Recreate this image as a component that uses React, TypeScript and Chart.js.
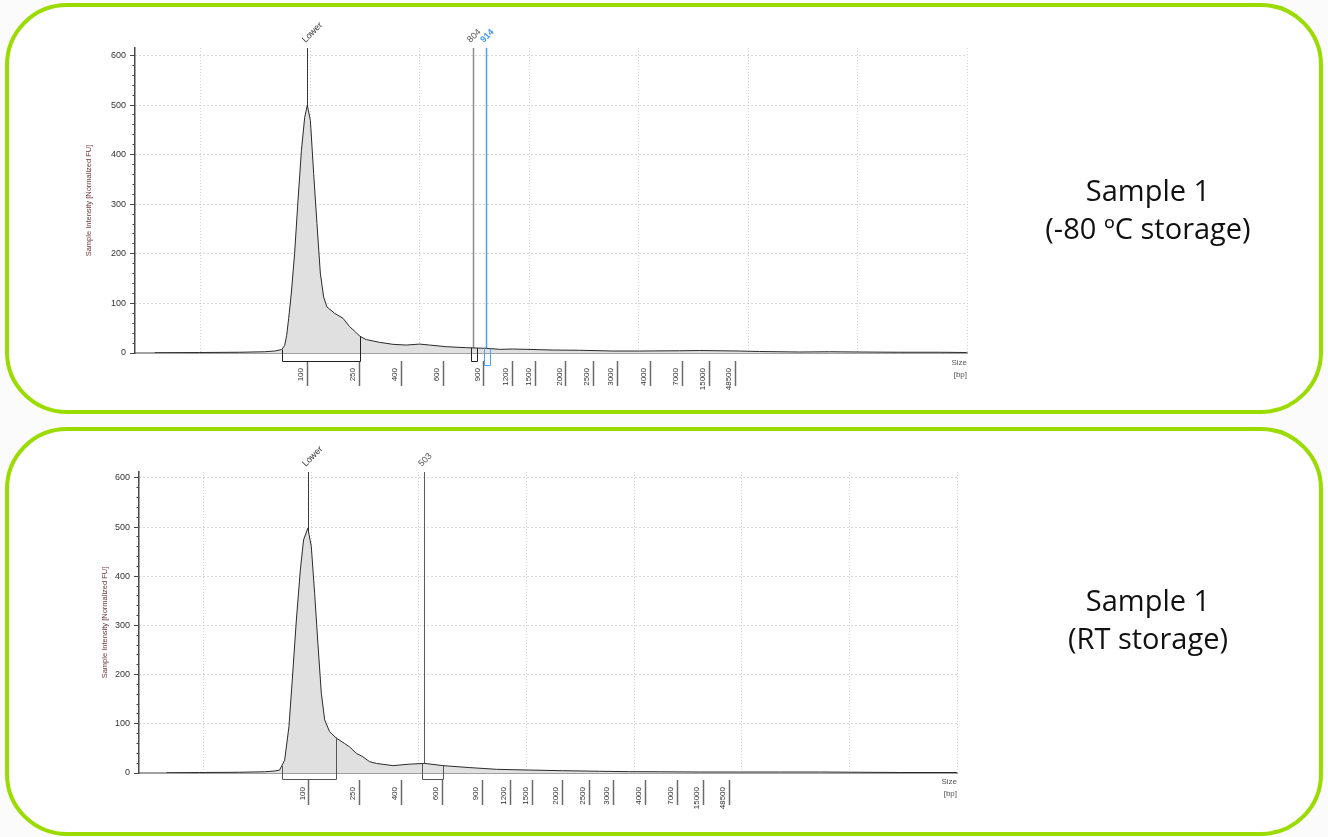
import React, { useEffect, useRef } from 'react';
import { Chart, registerables } from 'chart.js';

Chart.register(...registerables);

// ---------- DATA ----------
// x positions are in migration units of the electropherogram (vertical grid lines at 1..8)
const ladderSizes = ['100', '250', '400', '600', '900', '1200', '1500', '2000', '2500', '3000', '4000', '7000', '15000', '48500'];
const ladderPositions = [1.978, 2.448, 2.835, 3.218, 3.587, 3.851, 4.058, 4.336, 4.588, 4.808, 5.105, 5.402, 5.647, 5.888];
const gridPositions = [1, 2, 3, 4, 5, 6, 7, 8];
const yTickValues = [0, 100, 200, 300, 400, 500, 600];
const yMinorValues = [0, 20, 40, 60, 80, 100, 120, 140, 160, 180, 200, 220, 240, 260, 280, 300, 320, 340, 360, 380, 400, 420, 440, 460, 480, 500, 520, 540, 560, 580, 600];

// Sample 1, -80 °C storage
const topX = [0.58, 0.991, 1.356, 1.584, 1.676, 1.74, 1.767, 1.785, 1.804, 1.828, 1.858, 1.889, 1.92, 1.95, 1.974, 2.002, 2.032, 2.062, 2.093, 2.123, 2.153, 2.224, 2.3, 2.361, 2.416, 2.452, 2.513, 2.635, 2.756, 2.879, 3.0, 3.091, 3.244, 3.426, 3.609, 3.731, 3.849, 3.974, 4.217, 4.461, 4.763, 5.009, 5.374, 5.557, 5.922, 6.105, 6.47, 6.744, 7.018, 7.384, 7.749, 7.995];
const topY = [0.5, 1, 1.5, 2.5, 4, 7, 15, 35, 70, 121, 201, 308, 408, 475, 500, 469, 362, 261, 161, 113, 93, 80, 70, 53, 42, 34, 27, 21.5, 17.5, 16, 18, 16, 12.7, 10.7, 9.4, 7.4, 8, 7.4, 6, 5.5, 4, 4, 4.5, 5, 4, 3, 2, 2.5, 2, 1.5, 1.5, 1];
const topMarkerPositions = [1.975, 3.484, 3.603];
const topMarkerLabels = ['Lower', '804', '914'];
const topRegionStarts = [1.74, 3.466, 3.584];
const topRegionEnds = [2.452, 3.521, 3.639];

// Sample 1, RT storage
const bottomX = [0.656, 0.963, 1.335, 1.567, 1.66, 1.706, 1.753, 1.793, 1.824, 1.862, 1.899, 1.929, 1.969, 2.001, 2.032, 2.062, 2.094, 2.125, 2.171, 2.233, 2.31, 2.357, 2.419, 2.48, 2.543, 2.605, 2.759, 2.914, 3.054, 3.224, 3.472, 3.72, 4.03, 4.336, 4.68, 4.959, 5.238, 5.61, 5.981, 6.353, 6.725, 7.097, 7.468, 7.998];
const bottomY = [0.5, 1, 1.5, 2.5, 4, 6, 26, 94, 189, 311, 413, 474, 498, 460, 365, 264, 162, 108, 84, 71, 60, 53, 40, 33, 23, 19.5, 15, 18, 19.5, 15, 11, 7.5, 6, 4.7, 3.5, 2.7, 2.5, 2, 2, 2, 2, 1.5, 1, 1];
const bottomMarkerPositions = [1.968, 3.045];
const bottomMarkerLabels = ['Lower', '503'];
const bottomRegionStarts = [1.725, 3.026];
const bottomRegionEnds = [2.227, 3.221];

const sampleName = 'Sample 1';
const topCondition = '(-80 ºC storage)';
const bottomCondition = '(RT storage)';
const yTitle = 'Sample Intensity [Normalized FU]';
const xTitle = ['Size', '[bp]'];

// ---------- STYLES ----------
const GREEN = '#9bdc00';
const SMALL_FONT = '"Liberation Sans", Arial, sans-serif';

type MarkerStyle = { color: string; width: number; labelColor: string; bold?: boolean };
type RegionStyle = { color: string; depth: number };

const topMarkerStyles: MarkerStyle[] = [
  { color: '#3a3a3a', width: 1, labelColor: '#333' },
  { color: '#8c8c8c', width: 1.5, labelColor: '#555' },
  { color: '#4aa0ff', width: 1.5, labelColor: '#3d98f5', bold: true },
];
const topRegionStyles: RegionStyle[] = [
  { color: '#222', depth: 8 },
  { color: '#222', depth: 8 },
  { color: '#4aa0ff', depth: 12 },
];
const bottomMarkerStyles: MarkerStyle[] = [
  { color: '#3a3a3a', width: 1, labelColor: '#333' },
  { color: '#5a5a5a', width: 1, labelColor: '#555' },
];
const bottomRegionStyles: RegionStyle[] = [
  { color: '#555', depth: 6 },
  { color: '#555', depth: 6 },
];

interface PanelProps {
  xs: number[];
  ys: number[];
  markerPos: number[];
  markerLabels: string[];
  markerStyles: MarkerStyle[];
  regionStarts: number[];
  regionEnds: number[];
  regionStyles: RegionStyle[];
  left: number;
  top: number;
  width: number;
  height: number;
  yAxisWidth: number;
  padTop: number;
  padRight: number;
  padBottom: number;
  gapHeight: number;
  ladderHeight: number;
  yMax: number;
  titlePad: number;
}

function Panel(p: PanelProps) {
  const ref = useRef<HTMLCanvasElement>(null);

  useEffect(() => {
    const canvas = ref.current;
    if (!canvas) return;

    const interp = (u: number) => {
      const xs = p.xs, ys = p.ys;
      if (u <= xs[0]) return ys[0];
      for (let i = 1; i < xs.length; i++) {
        if (u <= xs[i]) {
          const t = (u - xs[i - 1]) / (xs[i] - xs[i - 1]);
          return ys[i - 1] + t * (ys[i] - ys[i - 1]);
        }
      }
      return ys[ys.length - 1];
    };

    const annot = {
      id: 'annot',
      beforeDatasetsDraw(chart: any) {
        const { ctx, chartArea, scales } = chart;
        const sx = scales.x, sy = scales.y;
        const base = sy.getPixelForValue(0);
        p.markerPos.forEach((pos, i) => {
          const st = p.markerStyles[i];
          const px = Math.round(sx.getPixelForValue(pos)) + 0.5;
          ctx.save();
          ctx.strokeStyle = st.color;
          ctx.lineWidth = st.width;
          ctx.beginPath();
          ctx.moveTo(px, chartArea.top);
          ctx.lineTo(px, base);
          ctx.stroke();
          ctx.restore();
        });
      },
      afterDatasetsDraw(chart: any) {
        const { ctx, scales } = chart;
        const sx = scales.x, sy = scales.y;
        const base = sy.getPixelForValue(0);
        p.regionStarts.forEach((s, i) => {
          const e = p.regionEnds[i];
          const st = p.regionStyles[i];
          const xa = Math.round(sx.getPixelForValue(s)) + 0.5;
          const xb = Math.round(sx.getPixelForValue(e)) + 0.5;
          const ya = sy.getPixelForValue(interp(s));
          const yb = sy.getPixelForValue(interp(e));
          const bot = Math.round(base + st.depth) + 0.5;
          ctx.save();
          ctx.strokeStyle = st.color;
          ctx.lineWidth = 1;
          ctx.beginPath();
          ctx.moveTo(xa, ya);
          ctx.lineTo(xa, bot);
          ctx.lineTo(xb, bot);
          ctx.lineTo(xb, yb);
          ctx.stroke();
          ctx.restore();
        });
      },
      afterDraw(chart: any) {
        const { ctx, chartArea, scales } = chart;
        const sx = scales.x;
        p.markerPos.forEach((pos, i) => {
          const st = p.markerStyles[i];
          const px = sx.getPixelForValue(pos);
          ctx.save();
          ctx.translate(px - 2, chartArea.top - 5);
          ctx.rotate(-Math.PI / 4);
          ctx.font = `${st.bold ? 'bold ' : ''}9px ${SMALL_FONT}`;
          ctx.fillStyle = st.labelColor;
          ctx.textAlign = 'left';
          ctx.textBaseline = 'alphabetic';
          ctx.fillText(p.markerLabels[i], 0, 0);
          ctx.restore();
        });
      },
    };

    const chart = new Chart(canvas, {
      type: 'line',
      data: {
        datasets: [
          {
            data: p.xs.map((x, i) => ({ x, y: p.ys[i] })),
            borderColor: '#2a2a2a',
            borderWidth: 1,
            backgroundColor: '#e0e0e0',
            fill: 'origin',
            pointRadius: 0,
            tension: 0,
            xAxisID: 'x',
            yAxisID: 'y',
          },
        ],
      },
      options: {
        animation: false,
        responsive: false,
        events: [],
        layout: { padding: { left: 0, right: p.padRight, top: p.padTop, bottom: p.padBottom } },
        plugins: { legend: { display: false }, tooltip: { enabled: false } },
        scales: {
          x: {
            type: 'linear',
            position: 'bottom',
            weight: 0,
            min: 0.4,
            max: 8,
            afterBuildTicks: (s: any) => {
              s.ticks = gridPositions.map((v) => ({ value: v }));
            },
            afterFit: (s: any) => {
              s.height = p.gapHeight;
              s.paddingLeft = 0;
              s.paddingRight = 0;
            },
            ticks: { display: false },
            grid: { color: '#d2d2d2', lineWidth: 1, drawTicks: false },
            border: { display: true, color: '#a0a0a0', width: 2, dash: [1, 2] },
          },
          xl: {
            type: 'linear',
            position: 'bottom',
            weight: 1,
            min: 0.4,
            max: 8,
            afterBuildTicks: (s: any) => {
              s.ticks = ladderPositions.map((v) => ({ value: v }));
            },
            afterFit: (s: any) => {
              s.height = p.ladderHeight;
              s.paddingLeft = 0;
              s.paddingRight = 0;
            },
            ticks: {
              autoSkip: false,
              minRotation: 90,
              maxRotation: 90,
              padding: -18,
              labelOffset: -6.5,
              color: '#333',
              font: { family: SMALL_FONT, size: 8 },
              callback: (_v: any, i: number) => ladderSizes[i],
            },
            grid: {
              display: true,
              drawOnChartArea: false,
              drawTicks: true,
              tickLength: 25,
              tickColor: '#6a6a6a',
              tickWidth: 1.5,
              tickBorderDash: [],
            },
            border: { display: false },
            title: {
              display: true,
              text: xTitle,
              align: 'end',
              color: '#555',
              padding: { top: 0, bottom: 12 },
              font: { family: SMALL_FONT, size: 8, lineHeight: 1.4 },
            },
          },
          ym: {
            type: 'linear',
            position: 'left',
            weight: 0,
            min: 0,
            max: p.yMax,
            afterBuildTicks: (s: any) => {
              s.ticks = yMinorValues.map((v) => ({ value: v }));
            },
            afterFit: (s: any) => {
              s.width = 0;
              s.paddingTop = 0;
              s.paddingBottom = 0;
            },
            ticks: { display: false },
            grid: {
              display: true,
              drawOnChartArea: false,
              drawTicks: true,
              tickLength: 2.5,
              tickColor: '#444',
              tickWidth: 1,
              tickBorderDash: [],
            },
            border: { display: false },
          },
          y: {
            type: 'linear',
            position: 'left',
            weight: 1,
            min: 0,
            max: p.yMax,
            afterBuildTicks: (s: any) => {
              s.ticks = yTickValues.map((v) => ({ value: v }));
            },
            afterFit: (s: any) => {
              s.width = p.yAxisWidth;
              s.paddingTop = 0;
              s.paddingBottom = 0;
            },
            ticks: {
              color: '#333',
              padding: 4,
              font: { family: SMALL_FONT, size: 9 },
            },
            grid: {
              color: (c: any) => (c.tick && c.tick.value === 0 ? 'rgba(0,0,0,0)' : '#b4b4b4'),
              lineWidth: 1,
              drawTicks: true,
              tickLength: 5,
              tickColor: '#444',
              tickWidth: 1,
              tickBorderDash: [],
            },
            border: { display: true, color: '#4a4a4a', width: 1.5, dash: [1, 3] },
            title: {
              display: true,
              text: yTitle,
              color: '#6b3a3a',
              padding: { top: p.titlePad, bottom: 0 },
              font: { family: SMALL_FONT, size: 7.5 },
            },
          },
        },
      },
      plugins: [annot],
    } as any);

    return () => chart.destroy();
  }, []);

  return (
    <canvas
      ref={ref}
      width={p.width}
      height={p.height}
      style={{ position: 'absolute', left: p.left, top: p.top, width: p.width, height: p.height }}
    />
  );
}

const frameStyle = (top: number, height: number): React.CSSProperties => ({
  position: 'absolute',
  left: 5,
  top,
  width: 1318,
  height,
  border: `4px solid ${GREEN}`,
  borderRadius: 62,
  boxSizing: 'border-box',
  background: '#fff',
});

const labelStyle = (top: number): React.CSSProperties => ({
  position: 'absolute',
  left: 988,
  top,
  width: 320,
  textAlign: 'center',
  fontFamily: '"Open Sans", "Noto Sans", sans-serif',
  fontSize: 29,
  lineHeight: '38px',
  color: '#111',
});

export default function App() {
  return (
    <div
      style={{
        position: 'fixed',
        left: 0,
        top: 0,
        width: 1328,
        height: 837,
        background: '#fbfbfb',
        overflow: 'hidden',
      }}
    >
      <div style={frameStyle(3, 411)} />
      <div style={frameStyle(427, 409)} />

      <Panel
        xs={topX}
        ys={topY}
        markerPos={topMarkerPositions}
        markerLabels={topMarkerLabels}
        markerStyles={topMarkerStyles}
        regionStarts={topRegionStarts}
        regionEnds={topRegionEnds}
        regionStyles={topRegionStyles}
        left={60}
        top={10}
        width={940}
        height={390}
        yAxisWidth={75}
        padTop={38}
        padRight={33}
        padBottom={8}
        gapHeight={8}
        ladderHeight={31}
        yMax={615}
        titlePad={24}
      />
      <Panel
        xs={bottomX}
        ys={bottomY}
        markerPos={bottomMarkerPositions}
        markerLabels={bottomMarkerLabels}
        markerStyles={bottomMarkerStyles}
        regionStarts={bottomRegionStarts}
        regionEnds={bottomRegionEnds}
        regionStyles={bottomRegionStyles}
        left={60}
        top={430}
        width={940}
        height={390}
        yAxisWidth={79}
        padTop={42}
        padRight={43}
        padBottom={9}
        gapHeight={7}
        ladderHeight={31}
        yMax={612}
        titlePad={40}
      />

      <div style={labelStyle(171)}>
        <div>{sampleName}</div>
        <div>{topCondition}</div>
      </div>
      <div style={labelStyle(581)}>
        <div>{sampleName}</div>
        <div>{bottomCondition}</div>
      </div>
    </div>
  );
}
